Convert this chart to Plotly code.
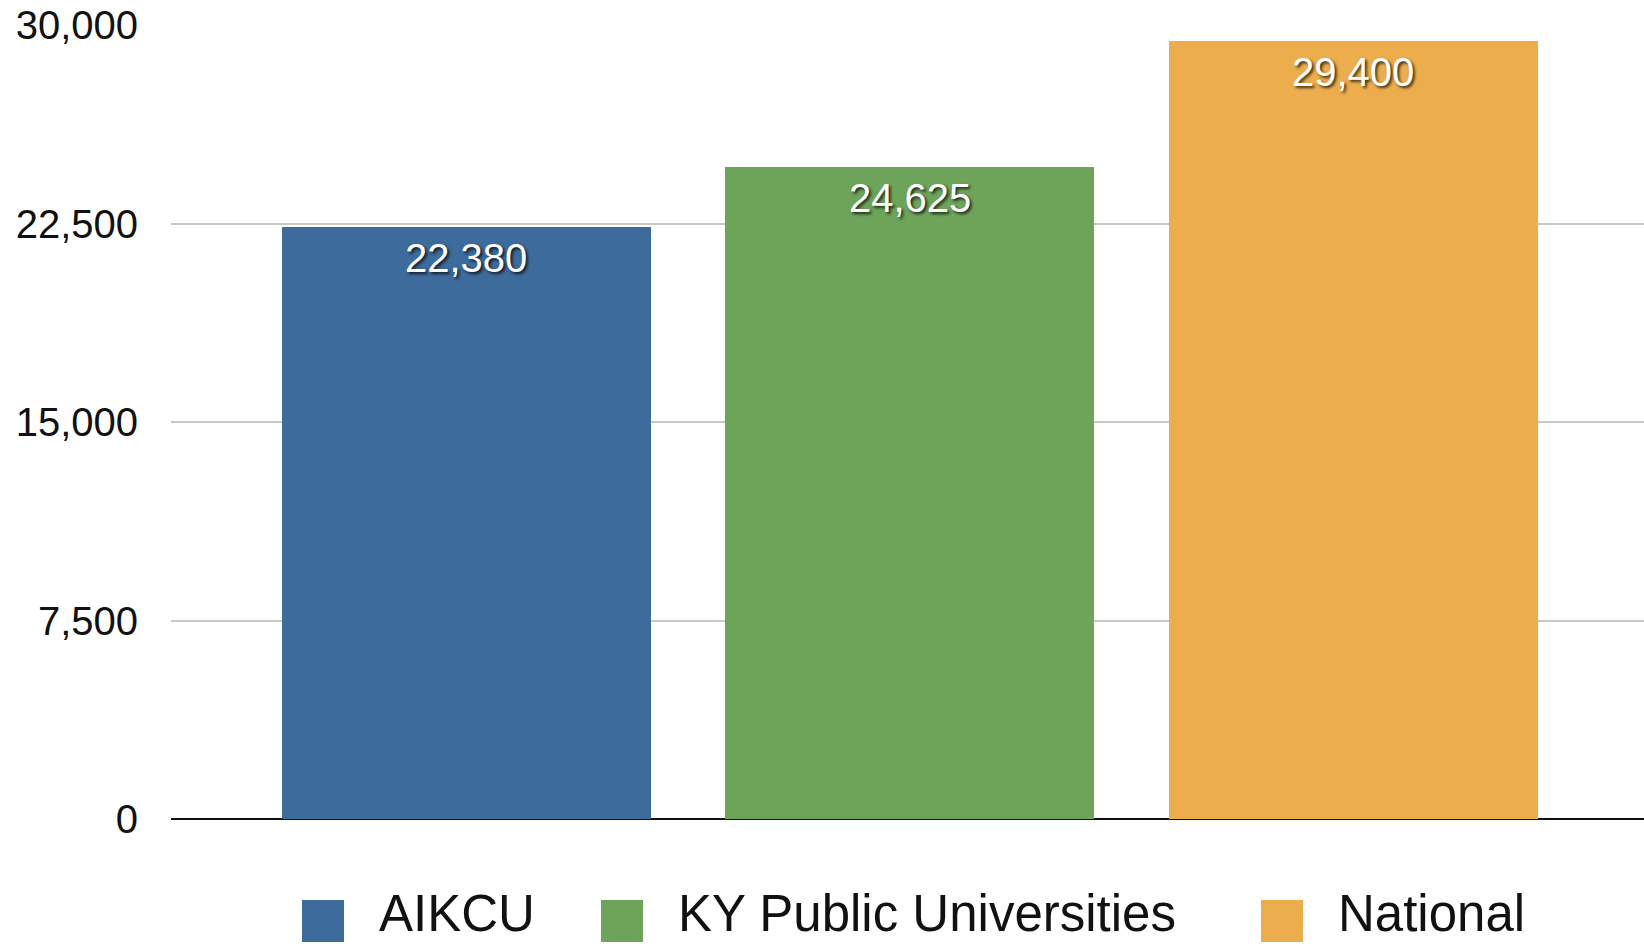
import plotly.graph_objects as go

# datos
categories = ["AIKCU", "KY Public Universities", "National"]
values = [22380, 24625, 29400]
colors = ["#3D6B9B", "#6DA45A", "#ECAE4C"]
y_ticks = [0, 7500, 15000, 22500, 30000]

W, H = 1644, 947
M_L, M_R, M_T, M_B = 171, 0, 25, 128
PW, PH = W - M_L - M_R, H - M_T - M_B
FONT = "Liberation Sans, Arial, Helvetica, sans-serif"


def px_x(px):
    return (px - M_L) / PW


def px_y(py):
    return (H - M_B - py) / PH


fig = go.Figure()
fig.add_trace(go.Bar(
    x=categories, y=values,
    marker=dict(color=colors, line=dict(width=0)),
    width=0.832,
    showlegend=False,
    hoverinfo="x+y",
))

# etiquetas de valor dentro de la barra
for c, v in zip(categories, values):
    fig.add_annotation(
        x=c, y=v, text=f"{v:,}", showarrow=False,
        yanchor="middle", yshift=-31,
        font=dict(family=FONT, size=40, color="white",
                  shadow="2px 2px 3px rgba(0,0,0,0.75)"),
    )

# leyenda manual (cuadros grandes)
legend_left = [302, 601, 1261]
for name, col, lx in zip(categories, colors, legend_left):
    fig.add_shape(type="rect", xref="paper", yref="paper",
                  x0=px_x(lx), x1=px_x(lx + 42),
                  y0=px_y(942), y1=px_y(900),
                  fillcolor=col, line=dict(width=0))
    fig.add_annotation(xref="paper", yref="paper",
                       x=px_x(lx + 75), y=px_y(913),
                       xanchor="left", yanchor="middle",
                       text=name, showarrow=False,
                       font=dict(family=FONT, size=51, color="#111111"))

fig.update_layout(
    width=W, height=H, autosize=False,
    margin=dict(l=M_L, r=M_R, t=M_T, b=M_B, pad=0),
    paper_bgcolor="white", plot_bgcolor="white",
    font=dict(family=FONT, color="#111111"),
    xaxis=dict(range=[-0.666, 2.655], showticklabels=False, showgrid=False,
               zeroline=False, showline=False, fixedrange=True),
    yaxis=dict(range=[0, 30000], tickvals=y_ticks, tickformat=",",
               ticks="outside", ticklen=24, tickcolor="rgba(0,0,0,0)",
               tickfont=dict(family=FONT, size=40, color="#111111"),
               showgrid=True, gridcolor="#C8C8C8", gridwidth=1.5,
               zeroline=True, zerolinecolor="#111111", zerolinewidth=2,
               showline=False, fixedrange=True),
    bargap=0,
)

fig.write_html("out.html", config={"displayModeBar": False},
               post_script="document.body.style.margin='0';document.body.style.overflow='hidden';")
